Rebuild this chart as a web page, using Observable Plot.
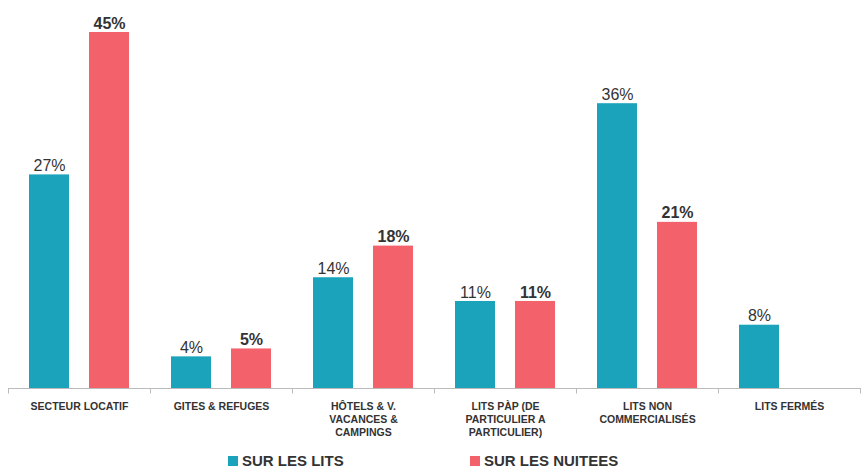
<!DOCTYPE html>
<html>
<head>
<meta charset="utf-8">
<script src="https://cdn.jsdelivr.net/npm/d3@7"></script>
<script src="https://cdn.jsdelivr.net/npm/@observablehq/plot@0.6"></script>
<style>
  body { margin: 0; background: #fff; font-family: "Liberation Sans", Arial, sans-serif; }
  #legend { display: flex; margin-top: 2px; padding-left: 228px; font-weight: bold; font-size: 15px; color: #333; }
  #legend span.item { display: flex; align-items: center; width: 242px; }
  #legend i { display: inline-block; width: 10px; height: 10px; margin-right: 4px; }
</style>
</head>
<body>
<div id="chart"></div>
<div id="legend"></div>
<script>
const categories = ["SECTEUR LOCATIF", "GITES & REFUGES", "HÔTELS & V.\nVACANCES &\nCAMPINGS", "LITS PÀP (DE\nPARTICULIER A\nPARTICULIER)", "LITS NON\nCOMMERCIALISÉS", "LITS FERMÉS"];
const series = ["SUR LES LITS", "SUR LES NUITEES"];
const lits = [27, 4, 14, 11, 36, 8];
const nuitees = [45, 5, 18, 11, 21, null];
const colors = ["#1ba3bb", "#f3626a"];

const data = [];
categories.forEach((c, i) => {
  data.push({cat: c, s: series[0], v: lits[i]});
  if (nuitees[i] != null) data.push({cat: c, s: series[1], v: nuitees[i]});
});

const chart = Plot.plot({
  width: 861,
  height: 450,
  marginLeft: 7,
  marginRight: 1,
  marginTop: 32,
  marginBottom: 62,
  style: { "font-family": "Liberation Sans, Arial, sans-serif", color: "#333", background: "#fff" },
  fx: { domain: categories, padding: 0, label: null },
  x: { domain: series, padding: 0.34, axis: null },
  y: { domain: [0, 45], axis: null },
  color: { domain: series, range: colors },
  marks: [
    Plot.barY(data, { fx: "cat", x: "s", y: "v", fill: "s" }),
    Plot.text(data.filter(d => d.s === series[0]), { fx: "cat", x: "s", y: "v", text: d => d.v + "%", dy: -9, fontSize: 16, fill: "#333" }),
    Plot.text(data.filter(d => d.s === series[1]), { fx: "cat", x: "s", y: "v", text: d => d.v + "%", dy: -9, fontSize: 16, fontWeight: "bold", fill: "#333" }),
    Plot.ruleY([0], { stroke: "#bbb" }),
    Plot.ruleX(categories, { fx: d => d, x: () => series[0], dx: -41, y1: 0, y2: -0.7, stroke: "#bbb" }),
    Plot.ruleX([categories[5]], { fx: d => d, x: () => series[1], dx: 41, y1: 0, y2: -0.7, stroke: "#bbb" }),
    Plot.axisFx({ anchor: "bottom", tickSize: 0, tickPadding: 12, fontSize: 10.5, fontWeight: "bold", lineHeight: 1.25, label: null, fill: "#333" })
  ]
});
document.getElementById("chart").append(chart);

d3.select("#legend").selectAll("span").data(series).join("span")
  .attr("class", "item")
  .html((d, i) => `<i style="background:${colors[i]}"></i>${d}`);
</script>
</body>
</html>
